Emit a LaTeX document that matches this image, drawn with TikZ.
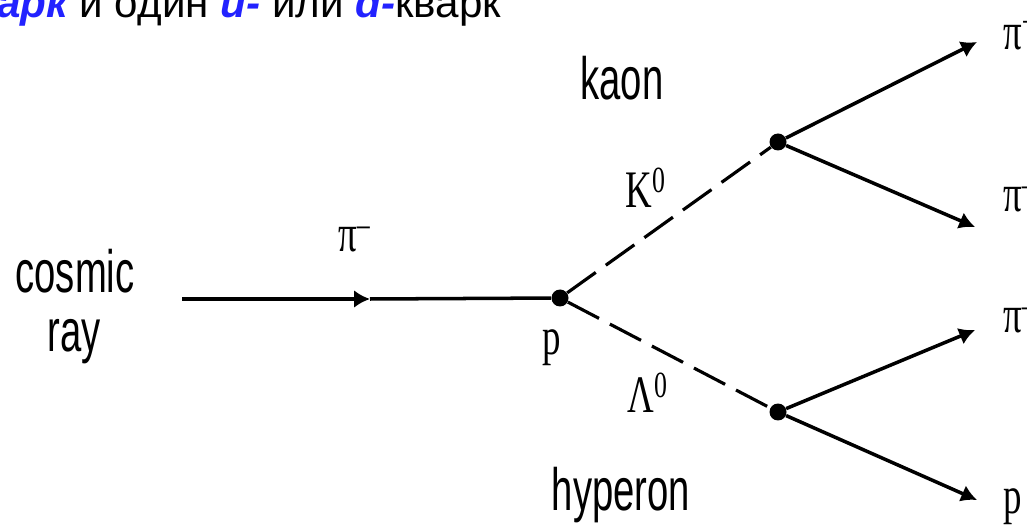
\documentclass[tikz,border=0pt]{standalone}
\usepackage{fontspec}
\setmainfont{Liberation Serif}
\newfontfamily\headfont{Liberation Sans}
\newfontfamily\narrowsans[FakeStretch=0.64]{Liberation Sans}
\newfontfamily\narrowserif[FakeStretch=0.7]{Liberation Serif}
\usetikzlibrary{arrows.meta,positioning,calc}
\definecolor{quarkblue}{RGB}{34,34,255}
\newcommand{\qk}[1]{\textcolor{quarkblue}{\bfseries\itshape #1}}

\begin{document}
\begin{tikzpicture}[
  x=0.02cm, y=-0.02cm,
  word/.style={font=\narrowsans\fontsize{34}{34}\selectfont, inner sep=0pt, anchor=base},
  sym/.style={font=\narrowserif\fontsize{30}{30}\selectfont, inner sep=0pt, anchor=base west},
  vtx/.style={circle, fill, inner sep=0pt, minimum size=0.34cm},
  track/.style={line width=2pt},
  arr/.style={track, -{Latex[length=9pt,width=10pt]}},
  virt/.style={line width=1.8pt, dash pattern=on 20pt off 7pt}
]
\fill[white] (0,0) rectangle (1027,526);
\useasboundingbox (0,0) rectangle (1027,526);

% heading line
\node[inner sep=0pt, anchor=base west, font=\headfont\fontsize{24}{24}\selectfont] (head) at (-3,18)
  {\qk{арк} и один \qk{u-} или \qk{d-}кварк};

% labels
\node[word] (cosmic) at (75,293) {cosmic};
\node[word] (ray) at (74,352) {ray};
\node[word] (kaon) at (622,100) {kaon};
\node[word] (hyperon) at (621,510) {hyperon};

% vertices
\node[vtx] (vp) at (560,298) {};
\node[vtx] (vk) at (778,142) {};
\node[vtx] (vl) at (778,412) {};

\coordinate (rayin) at (182,299);
\coordinate (pimid) at (370,299);
\coordinate (tipa) at (977,42);
\coordinate (tipb) at (975,227);
\coordinate (tipc) at (975,330);
\coordinate (tipd) at (977,500);

% particle symbols
\node[sym] (pibeam) at (338,252) {π\textsuperscript{–}};
\node[sym] (pr) at (542,355) {p};
\node[sym] (kzero) at (625,208) {K\textsuperscript{0}};
\node[sym] (lzero) at (627,413) {Λ\textsuperscript{0}};
\node[sym] (pia) at (1003,50) {π\textsuperscript{+}};
\node[sym] (pib) at (1003,212) {π\textsuperscript{–}};
\node[sym] (pic) at (1003,333) {π\textsuperscript{–}};
\node[sym] (pd) at (1003,513) {p};

% tracks
\draw[arr] (rayin) -- (pimid);
\draw[track] (pimid) -- (vp);
\draw[virt] (vp) -- (vk);
\draw[virt] (vp) -- (vl);
\draw[arr] (vk) -- (tipa);
\draw[arr] (vk) -- (tipb);
\draw[arr] (vl) -- (tipc);
\draw[arr] (vl) -- (tipd);
\end{tikzpicture}
\end{document}
